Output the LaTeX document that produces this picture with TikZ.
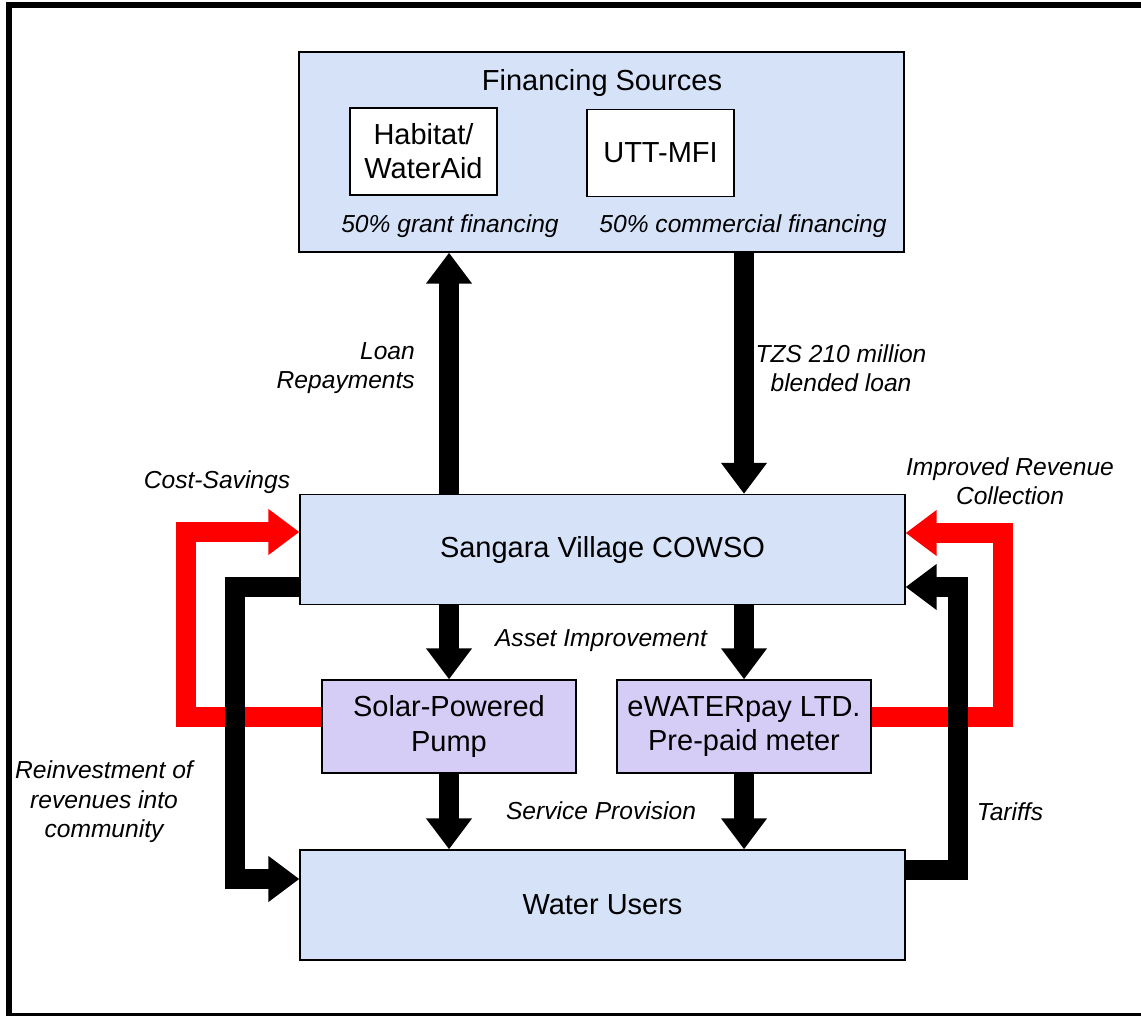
\documentclass[tikz,border=0pt]{standalone}
\usepackage{fontspec}
\setmainfont{Liberation Sans}
\usepackage{tikz}
\usetikzlibrary{arrows.meta, positioning, calc}

\definecolor{boxblue}{RGB}{213,226,248}
\definecolor{boxlilac}{RGB}{214,205,247}

\begin{document}
\begin{tikzpicture}[
  x=0.02cm, y=-0.02cm,
  bigbox/.style={rectangle, draw=black, line width=0.8pt, fill=boxblue, minimum width=12.1cm, minimum height=2.2cm, font=\fontsize{16.5}{19.5}\selectfont},
  srcbox/.style={rectangle, draw=black, line width=0.8pt, fill=white, minimum width=2.94cm, minimum height=1.74cm, align=center, font=\fontsize{16.5}{19.5}\selectfont},
  techbox/.style={rectangle, draw=black, line width=0.8pt, fill=boxlilac, minimum width=5.08cm, minimum height=1.86cm, align=center, font=\fontsize{16.5}{19.5}\selectfont},
  lbl/.style={align=center, font=\fontsize{14}{16.8}\selectfont\itshape},
  bigarrow/.style={line width=0.4cm, -{Triangle[width=0.88cm,length=0.62cm]}},
  redarrow/.style={bigarrow, draw=red}
]
  \useasboundingbox (0,0) rectangle (1141,1016);
  \draw[line width=0.12cm] (9,5) rectangle (1150,1016);

  \node[bigbox, minimum height=4cm] (fin) at (601.5,152) {};
  \node[font=\fontsize{16.5}{19.5}\selectfont] (fintitle) at (602,83) {Financing Sources};
  \node[srcbox] (habitat) at (423.5,151.5) {Habitat/\\WaterAid};
  \node[srcbox] (utt) at (660.5,153) {UTT-MFI};
  \node[lbl] (grant) at (450,226) {50\% grant financing};
  \node[lbl] (comm) at (743,226) {50\% commercial financing};

  \node[bigbox] (cowso) at (602.5,549.5) {Sangara Village COWSO};
  \node[techbox] (solar) at (449,726.5) {Solar-Powered\\Pump};
  \node[techbox] (ewater) at (744,726.5) {eWATERpay LTD.\\Pre-paid meter};
  \node[bigbox] (users) at (602.5,905) {Water Users};

  \draw[redarrow] ([yshift=0.19cm]solar.west) -- ++(-135,0) |- ([yshift=0.35cm]cowso.west);
  \draw[redarrow] ([yshift=0.19cm]ewater.east) -- ++(131,0) |- ([yshift=0.33cm]cowso.east);
  \draw[bigarrow] ([yshift=-0.75cm]cowso.west) -- ++(-64,0) |- ([yshift=0.52cm]users.west);
  \draw[bigarrow] ([yshift=0.7cm]users.east) -- ++(52,0) |- ([yshift=-0.75cm]cowso.east);

  \draw[bigarrow] (cowso.north -| solar) -- (fin.south -| solar);
  \draw[bigarrow] (fin.south -| ewater) -- (cowso.north -| ewater);
  \draw[bigarrow] (cowso.south -| solar) -- (solar.north);
  \draw[bigarrow] (cowso.south -| ewater) -- (ewater.north);
  \draw[bigarrow] (solar.south) -- (users.north -| solar);
  \draw[bigarrow] (ewater.south) -- (users.north -| ewater);

  \node[lbl, align=right, anchor=east] (repay) at (421,368) {Loan\\Repayments};
  \node[lbl] (loan) at (841,368) {TZS 210 million\\blended loan};
  \node[lbl] (savings) at (217,482) {Cost-Savings};
  \node[lbl] (revenue) at (1010,481) {Improved Revenue\\Collection};
  \node[lbl] (asset) at (601,641) {Asset Improvement};
  \node[lbl] (service) at (601,811) {Service Provision};
  \node[lbl] (reinvest) at (104,802) {Reinvestment of\\revenues into\\community};
  \node[lbl] (tariffs) at (1010,812) {Tariffs};
\end{tikzpicture}
\end{document}
